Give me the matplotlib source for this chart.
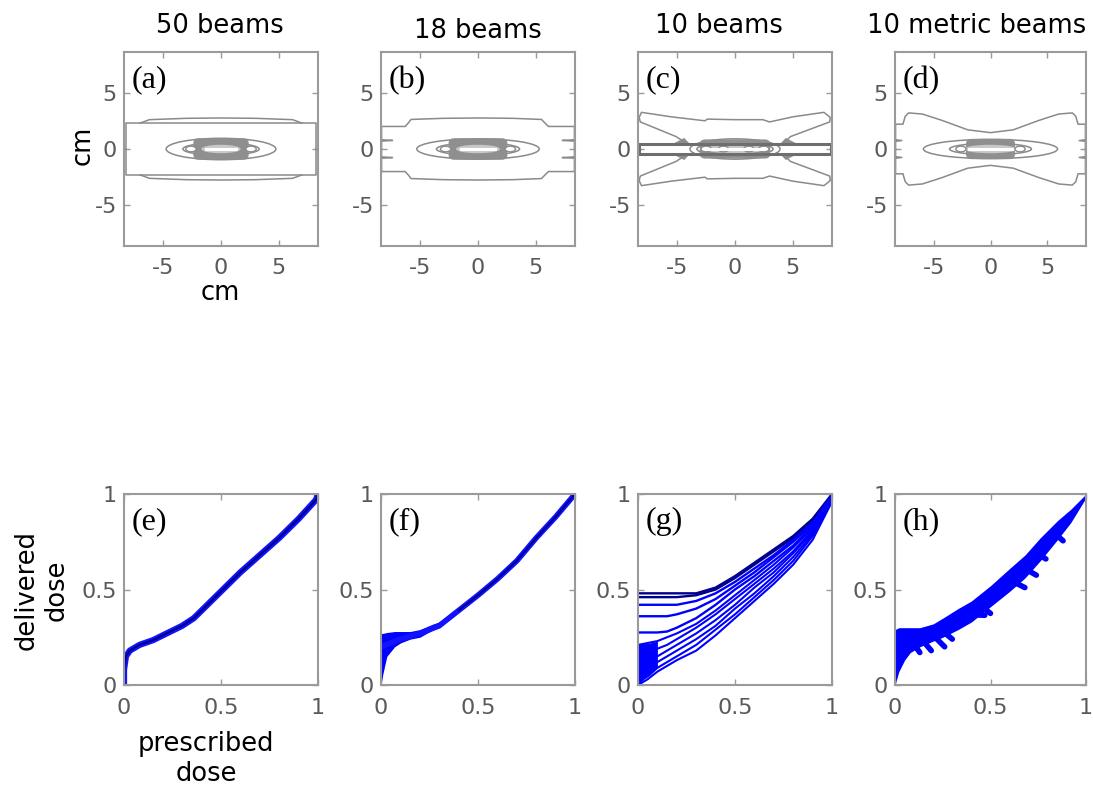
import numpy as np
import matplotlib.pyplot as plt
from matplotlib.patches import Ellipse, FancyBboxPatch

plt.rcParams["font.family"] = "DejaVu Sans"
plt.rcParams["axes.unicode_minus"] = False

W, H = 1093, 791

TITLES = ["50 beams", "18 beams", "10 beams", "10 metric beams"]
TOP_TAGS = ["(a)", "(b)", "(c)", "(d)"]
BOT_TAGS = ["(e)", "(f)", "(g)", "(h)"]

CM_TICKS = [-5, 0, 5]
CM_TICKLABELS = ["-5", "0", "5"]
DOSE_TICKS = [0, 0.5, 1]
DOSE_TICKLABELS = ["0", "0.5", "1"]

# ---- dose maps (cm) ----
# elliptical isodose rings: half length along x / y
RING_HALF_X = [[4.75, 3.3], [5.3, 3.6], [3.9, 3.3], [5.9, 3.6]]
RING_HALF_Y = [[0.95, 0.55], [0.9, 0.55], [0.9, 0.6], [0.85, 0.5]]
# dense high dose band in the middle
CORE_HALF_X = [2.35, 2.5, 3.0, 2.1]
CORE_HALF_Y = [0.9, 0.9, 0.8, 0.85]
SLIT_HALF_X = [1.3, 1.5, 2.3, 1.9]
HOT_SPOTS_X = [[-2.6, 2.6], [-2.8, 2.8], [-2.5, -1.0, 1.2, 2.5], [-2.6, 2.6]]

# outer isodose lines, upper half (mirrored for the lower half)
A_BOX_X = [-8.2, -8.2, 8.25, 8.25]
A_BOX_Y = [0.0, 2.3, 2.3, 0.0]
A_ARC_X = [-7.0, -6.2, -3.0, 0.0, 3.0, 6.2, 7.0]
A_ARC_Y = [2.3, 2.6, 2.72, 2.75, 2.72, 2.6, 2.3]

B_OUT_X = [-8.35, -8.35, -7.4, -8.35, -8.35, -6.3, -6.0, -5.8, -3.0, 0.0,
           3.0, 5.5, 5.8, 6.1, 8.35, 8.35, 7.3, 8.35, 8.35]
B_OUT_Y = [0.0, 0.7, 0.76, 0.82, 2.0, 2.0, 2.35, 2.62, 2.72, 2.75,
           2.72, 2.62, 2.3, 2.0, 2.0, 0.82, 0.76, 0.7, 0.0]

C_WING_X = [-4.2, -5.1, -8.2, -8.3, -8.1, -5.5, -2.6, -2.4, 0.0, 2.4,
            3.0, 5.0, 7.7, 8.25, 8.2, 4.8, 4.2]
C_WING_Y = [0.5, 1.1, 2.4, 2.8, 3.25, 2.85, 2.5, 2.65, 2.6, 2.6,
            2.4, 2.85, 3.25, 2.8, 2.4, 1.1, 0.5]
C_BAR_X = [-8.35, -8.35, 8.35, 8.35]
C_BAR_Y = [0.0, 0.45, 0.45, 0.0]
C_JOINT_X = [-5.4, -3.9, -4.4]
C_JOINT_Y = [0.45, 0.45, 0.98]

D_OUT_X = [-8.35, -8.35, -7.8, -8.35, -8.35, -7.7, -7.5, -7.2, -6.0, -4.3,
           -2.0, 0.0, 2.0, 4.3, 6.0, 7.2, 7.5, 7.7, 8.35, 8.35, 7.8, 8.35, 8.35]
D_OUT_Y = [0.0, 0.68, 0.75, 0.82, 2.2, 2.2, 2.9, 3.2, 3.1, 2.55,
           1.7, 1.45, 1.7, 2.55, 3.1, 3.2, 2.9, 2.2, 2.2, 0.82, 0.75, 0.68, 0.0]

# ---- delivered vs prescribed dose ----
E_X = [0.0, 0.0, 0.01, 0.03, 0.08, 0.15, 0.22, 0.30, 0.36, 0.42, 0.50,
       0.60, 0.70, 0.80, 0.90, 0.99, 1.0]
E_Y = [0.0, 0.08, 0.15, 0.18, 0.21, 0.235, 0.27, 0.31, 0.35, 0.41, 0.49,
       0.59, 0.68, 0.77, 0.87, 0.97, 1.0]

F_FAN_X = [0.0, 0.01, 0.03, 0.07, 0.10, 0.15, 0.20, 0.27, 0.30, 0.36, 0.42]
F_FAN_LO = [0.0, 0.06, 0.15, 0.20, 0.22, 0.24, 0.25, 0.29, 0.30, 0.35, 0.41]
F_FAN_HI = [0.27, 0.27, 0.275, 0.28, 0.28, 0.28, 0.29, 0.32, 0.33, 0.37, 0.42]
F_X = [0.0, 0.05, 0.10, 0.20, 0.30, 0.40, 0.50, 0.60, 0.70, 0.80, 0.90, 1.0]
F_Y = [0.20, 0.22, 0.24, 0.27, 0.31, 0.39, 0.47, 0.555, 0.65, 0.77, 0.88, 1.0]

G_X = [0.0, 0.05, 0.10, 0.15, 0.20, 0.30, 0.40, 0.50, 0.60, 0.70, 0.80, 0.90, 1.0]
G_CURVES = [
    [0.48, 0.48, 0.48, 0.48, 0.48, 0.48, 0.51, 0.57, 0.64, 0.71, 0.78, 0.87, 1.0],
    [0.46, 0.46, 0.46, 0.46, 0.46, 0.47, 0.50, 0.56, 0.63, 0.70, 0.77, 0.86, 0.99],
    [0.42, 0.42, 0.42, 0.42, 0.42, 0.44, 0.48, 0.54, 0.61, 0.68, 0.76, 0.85, 0.99],
    [0.36, 0.36, 0.36, 0.36, 0.37, 0.40, 0.45, 0.52, 0.59, 0.67, 0.75, 0.84, 0.98],
    [0.275, 0.275, 0.275, 0.28, 0.30, 0.35, 0.42, 0.50, 0.57, 0.65, 0.73, 0.83, 0.98],
    [0.21, 0.22, 0.23, 0.25, 0.27, 0.32, 0.39, 0.47, 0.55, 0.63, 0.72, 0.82, 0.98],
    [0.16, 0.17, 0.19, 0.21, 0.24, 0.30, 0.37, 0.45, 0.53, 0.61, 0.70, 0.81, 0.97],
    [0.11, 0.13, 0.15, 0.18, 0.21, 0.27, 0.34, 0.42, 0.51, 0.59, 0.69, 0.80, 0.97],
    [0.06, 0.09, 0.12, 0.15, 0.18, 0.24, 0.31, 0.40, 0.48, 0.57, 0.67, 0.79, 0.97],
    [0.02, 0.05, 0.09, 0.12, 0.15, 0.21, 0.29, 0.37, 0.46, 0.55, 0.65, 0.78, 0.97],
    [0.0, 0.03, 0.07, 0.10, 0.13, 0.18, 0.26, 0.35, 0.44, 0.53, 0.63, 0.76, 0.96],
]
G_FAN_X = [0.0, 0.03, 0.06, 0.10]
G_FAN_LO = [0.0, 0.03, 0.05, 0.09]
G_FAN_HI = [0.21, 0.22, 0.22, 0.23]

H_X = [0.0, 0.02, 0.05, 0.08, 0.13, 0.20, 0.25, 0.33, 0.40, 0.50,
       0.60, 0.68, 0.76, 0.85, 0.92, 1.0]
H_LO = [0.0, 0.07, 0.13, 0.17, 0.20, 0.23, 0.25, 0.29, 0.33, 0.41,
        0.49, 0.56, 0.65, 0.76, 0.85, 0.98]
H_HI = [0.29, 0.30, 0.30, 0.30, 0.30, 0.32, 0.35, 0.40, 0.44, 0.52,
        0.61, 0.68, 0.77, 0.86, 0.92, 1.0]
H_SPIKE_X0 = [0.08, 0.13, 0.19, 0.24, 0.36, 0.44, 0.60, 0.66, 0.74, 0.84]
H_SPIKE_Y0 = [0.24, 0.25, 0.27, 0.29, 0.37, 0.42, 0.55, 0.62, 0.69, 0.79]
H_SPIKE_X1 = [0.13, 0.19, 0.26, 0.30, 0.47, 0.50, 0.68, 0.74, 0.79, 0.88]
H_SPIKE_Y1 = [0.17, 0.18, 0.20, 0.24, 0.365, 0.375, 0.51, 0.575, 0.66, 0.755]

LINE_GREY = "#8a8a8a"
CORE_GREY = "#8f8f8f"
FRAME = "#9a9a9a"
TICK_TXT = "#5a5a5a"
BLUE = "#0000ff"
NAVY = "#00008e"

LEFTS = [124, 381, 638, 895]
BOX_W = [194, 194, 194, 191]
# title centre and baseline, in pixels from the top-left corner
TITLE_POS = [(220, 33), (478, 38), (719, 33), (977, 33)]
LABEL_SIZE = 18.5


def frame(ax):
    for sp in ax.spines.values():
        sp.set_color(FRAME)
        sp.set_linewidth(1.5)
    ax.tick_params(direction="in", length=4, width=1, color=FRAME,
                   labelcolor=TICK_TXT, labelsize=16, top=True, right=True)
    ax.tick_params(axis="x", pad=9)
    ax.tick_params(axis="y", pad=5)


def tag(ax, s):
    ax.text(0.04, 0.855, s, transform=ax.transAxes, va="center", ha="left",
            family="Liberation Serif", fontsize=23)


def mirrored(ax, xs, ys, **kw):
    ax.plot(xs, ys, **kw)
    ax.plot(xs, [-v for v in ys], **kw)


def dose_map(ax, i):
    kw = dict(color=LINE_GREY, lw=1.1)
    if i == 0:
        mirrored(ax, A_BOX_X, A_BOX_Y, **kw)
        mirrored(ax, A_ARC_X, A_ARC_Y, **kw)
    elif i == 1:
        mirrored(ax, B_OUT_X, B_OUT_Y, **kw)
    elif i == 2:
        for sx in (1, -1):
            for sy in (1, -1):
                ax.fill([sx * v for v in C_JOINT_X], [sy * v for v in C_JOINT_Y],
                        color=CORE_GREY, lw=0)
        mirrored(ax, C_WING_X, C_WING_Y, **kw)
    else:
        mirrored(ax, D_OUT_X, D_OUT_Y, **kw)

    for hx, hy in zip(RING_HALF_X[i], RING_HALF_Y[i]):
        ax.add_patch(Ellipse((0, 0), 2 * hx, 2 * hy, fill=False, ec=LINE_GREY, lw=1.1))
    cx, cy = CORE_HALF_X[i], CORE_HALF_Y[i]
    ax.add_patch(FancyBboxPatch((-cx, -cy), 2 * cx, 2 * cy,
                                boxstyle="round,pad=0,rounding_size=0.4",
                                fc=CORE_GREY, ec=CORE_GREY, lw=0.8))
    s = SLIT_HALF_X[i]
    # lighter inside of the band, white along the axis
    ax.add_patch(Ellipse((0, 0), 2 * s + 0.8, 0.75, fc="#c8c8c8", ec="none"))
    ax.plot([-s, s], [0, 0], color="white", lw=2.2)
    for hx in HOT_SPOTS_X[i]:
        ax.add_patch(Ellipse((hx, 0), 0.9, 0.5, fc="white", ec=LINE_GREY, lw=1.0))
    if i == 2:
        mirrored(ax, C_BAR_X, C_BAR_Y, color="#6e6e6e", lw=2.2)

    ax.set_xlim(-8.4, 8.4)
    ax.set_ylim(-8.6, 8.6)
    ax.set_xticks(CM_TICKS, CM_TICKLABELS)
    ax.set_yticks(CM_TICKS, CM_TICKLABELS)


def dose_curves(ax, i):
    if i == 0:
        ax.plot(E_X, E_Y, color="#1212ff", lw=4.5, solid_capstyle="round")
        ax.plot(E_X, E_Y, color=NAVY, lw=1.6)
    elif i == 1:
        ax.fill_between(F_FAN_X, F_FAN_LO, F_FAN_HI, color=BLUE, lw=0)
        ax.plot(F_X, F_Y, color="#1212ff", lw=4, solid_capstyle="round")
        ax.plot(F_X[5:], F_Y[5:], color=NAVY, lw=1.4)
    elif i == 2:
        ax.fill_between(G_FAN_X, G_FAN_LO, G_FAN_HI, color=BLUE, lw=0)
        for k, ys in enumerate(G_CURVES):
            ax.plot(G_X, ys, color=NAVY if k < 2 else BLUE, lw=1.7 if k < 5 else 1.5)
    else:
        ax.fill_between(H_X, H_LO, H_HI, color=BLUE, lw=0)
        for x0, y0, x1, y1 in zip(H_SPIKE_X0, H_SPIKE_Y0, H_SPIKE_X1, H_SPIKE_Y1):
            ax.plot([x0, x1], [y0, y1], color=BLUE, lw=4, solid_capstyle="round")
    ax.set_xlim(0, 1)
    ax.set_ylim(0, 1)
    ax.set_xticks(DOSE_TICKS, DOSE_TICKLABELS)
    ax.set_yticks(DOSE_TICKS, DOSE_TICKLABELS)


fig = plt.figure(figsize=(W / 100, H / 100), dpi=100)

for i in range(4):
    ax = fig.add_axes([LEFTS[i] / W, 1 - 246 / H, BOX_W[i] / W, 194 / H])
    dose_map(ax, i)
    frame(ax)
    tag(ax, TOP_TAGS[i])
    tx, ty = TITLE_POS[i]
    fig.text(tx / W, 1 - ty / H, TITLES[i], ha="center", va="baseline",
             fontsize=LABEL_SIZE)

    ax = fig.add_axes([LEFTS[i] / W, 1 - 685 / H, BOX_W[i] / W, 191 / H])
    dose_curves(ax, i)
    frame(ax)
    tag(ax, BOT_TAGS[i])

fig.text(83 / W, 1 - 145 / H, "cm", rotation=90, ha="center", va="center",
         fontsize=LABEL_SIZE)
fig.text(220 / W, 1 - 293 / H, "cm", ha="center", va="center", fontsize=LABEL_SIZE)
fig.text(42 / W, 1 - 590 / H, "delivered\ndose", rotation=90, ha="center", va="center",
         multialignment="center", fontsize=LABEL_SIZE)
fig.text(206 / W, 1 - 759 / H, "prescribed\ndose", ha="center", va="center",
         multialignment="center", fontsize=LABEL_SIZE)

fig.savefig("out.png", dpi=100, facecolor="white")
